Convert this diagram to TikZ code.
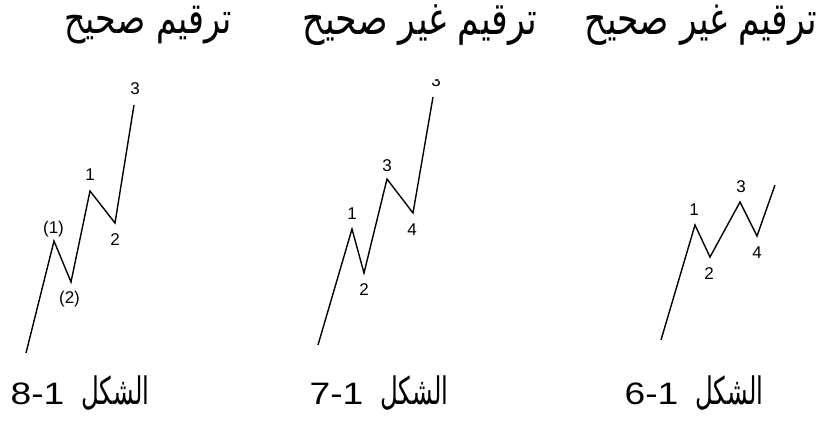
\documentclass[tikz,border=0pt]{standalone}
\usepackage{fontspec}
\setmainfont{Liberation Sans}
\newfontfamily\arabicfont[Script=Arabic]{DejaVu Sans}
\TeXXeTstate=1
\begin{document}
\begin{tikzpicture}[x=1pt,y=-1pt,
  wave/.style={line width=1.4pt, line join=miter, black},
  lbl/.style={font=\fontsize{17}{17}\selectfont, inner sep=0pt},
  ttl/.style={inner sep=0pt},
  figcap/.style={font=\fontsize{31}{31}\selectfont, inner sep=0pt}]
\useasboundingbox (0,0) rectangle (820,421);
\fill[white] (0,0) rectangle (820,421);

% titles
\node[ttl] (t8) at (148,25) {\resizebox{167pt}{!}{\scalebox{1}[1.3]{\arabicfont\beginR ترقيم صحيح\endR}}};
\node[ttl] (t7) at (420,25) {\resizebox{234pt}{!}{\scalebox{1}[1.3]{\arabicfont\beginR ترقيم غير صحيح\endR}}};
\node[ttl] (t6) at (701,25) {\resizebox{232pt}{!}{\scalebox{1}[1.3]{\arabicfont\beginR ترقيم غير صحيح\endR}}};

% figure 8
\coordinate (a0) at (26,353);
\coordinate (a1) at (54,241);
\coordinate (a2) at (71,282);
\coordinate (a3) at (90,191);
\coordinate (a4) at (115,223);
\coordinate (a5) at (134,105);
\draw[wave] (a0) -- (a1) -- (a2) -- (a3) -- (a4) -- (a5);
\node[lbl] (a1l) at (53.5,229) {(1)};
\node[lbl] (a2l) at (69.5,299) {(2)};
\node[lbl] (a3l) at (90,175) {1};
\node[lbl] (a4l) at (115,240) {2};
\node[lbl] (a5l) at (135,89) {3};

% figure 7
\coordinate (b0) at (318,345);
\coordinate (b1) at (352,229);
\coordinate (b2) at (364,273);
\coordinate (b3) at (387,179);
\coordinate (b4) at (413,213);
\coordinate (b5) at (433,97);
\draw[wave] (b0) -- (b1) -- (b2) -- (b3) -- (b4) -- (b5);
\node[lbl] (b1l) at (352,214) {1};
\node[lbl] (b2l) at (364,290) {2};
\node[lbl] (b3l) at (387,166) {3};
\node[lbl] (b4l) at (412,230) {4};
\begin{scope}
\clip (420,79.5) rectangle (460,100);
\node[lbl] (b5l) at (436,81) {3};
\end{scope}

% figure 6
\coordinate (c0) at (661,340);
\coordinate (c1) at (695,225);
\coordinate (c2) at (710,257);
\coordinate (c3) at (740,202);
\coordinate (c4) at (757,236);
\coordinate (c5) at (775,185);
\draw[wave] (c0) -- (c1) -- (c2) -- (c3) -- (c4) -- (c5);
\node[lbl] (c1l) at (694,210) {1};
\node[lbl] (c2l) at (709,274) {2};
\node[lbl] (c3l) at (741,187) {3};
\node[lbl] (c4l) at (757,253) {4};

% captions
\node[figcap] (f8) at (80,393) {\scalebox{1.2}[1]{8-1}\hspace{0.55em}\resizebox{68pt}{!}{\scalebox{1}[1.55]{\arabicfont\beginR الشكل\endR}}};
\node[figcap] (f7) at (379,393) {\scalebox{1.2}[1]{7-1}\hspace{0.55em}\resizebox{68pt}{!}{\scalebox{1}[1.55]{\arabicfont\beginR الشكل\endR}}};
\node[figcap] (f6) at (694,393) {\scalebox{1.2}[1]{6-1}\hspace{0.55em}\resizebox{68pt}{!}{\scalebox{1}[1.55]{\arabicfont\beginR الشكل\endR}}};
\end{tikzpicture}
\end{document}
